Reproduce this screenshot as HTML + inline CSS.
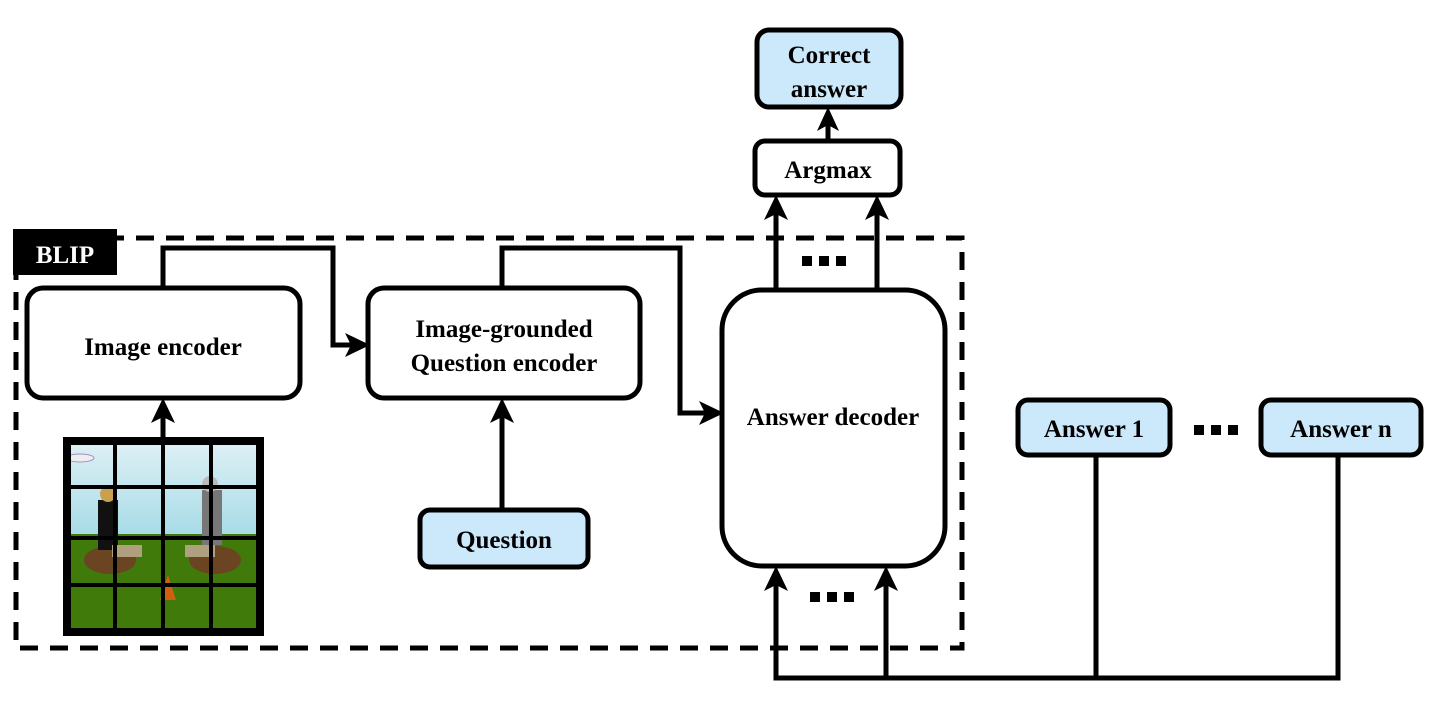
<!DOCTYPE html>
<html><head><meta charset="utf-8"><style>
html,body{margin:0;padding:0;background:#fff;}
svg{display:block;}
text{font-family:"Liberation Serif",serif;font-weight:bold;fill:#000;}
</style></head><body>
<svg width="1442" height="712" viewBox="0 0 1442 712" xmlns="http://www.w3.org/2000/svg">
<defs>
<linearGradient id="sky" x1="0" y1="0" x2="0" y2="1"><stop offset="0" stop-color="#dff0f5"/><stop offset="1" stop-color="#a8dce8"/></linearGradient>
</defs>
<rect x="16" y="238" width="946" height="410" fill="none" stroke="#000" stroke-width="5" stroke-dasharray="18,12"/>
<rect x="13" y="229" width="104" height="46" fill="#000"/>
<text x="65" y="263" font-size="25" text-anchor="middle" style="fill:#fff">BLIP</text>

<g fill="none" stroke="#000" stroke-width="5">
<rect x="27" y="288" width="273" height="110" rx="16"/>
<rect x="368" y="288" width="272" height="110" rx="16"/>
<rect x="722" y="290" width="223" height="276" rx="40"/>
<rect x="755" y="141" width="145" height="54" rx="10"/>
<polyline points="163,288 163,248 333,248 333,345 352,345"/>
<polyline points="502,288 502,248 680,248 680,413 706,413"/>
<line x1="163" y1="437" x2="163" y2="416"/>
<line x1="502" y1="510" x2="502" y2="416"/>
<line x1="776" y1="290" x2="776" y2="213"/>
<line x1="877" y1="290" x2="877" y2="213"/>
<line x1="828" y1="141" x2="828" y2="124"/>
<polyline points="776,584 776,678 1338,678 1338,455"/>
<line x1="886" y1="584" x2="886" y2="678"/>
<line x1="1096" y1="455" x2="1096" y2="678"/>
</g>
<g fill="#000">
<polygon points="370,345 345,333 351,345 345,357"/>
<polygon points="724,413 699,401 705,413 699,425"/>
<polygon points="163,398 151,423 163,417 175,423"/>
<polygon points="502,398 490,423 502,417 514,423"/>
<polygon points="776,195 764,220 776,214 788,220"/>
<polygon points="877,195 865,220 877,214 889,220"/>
<polygon points="828,107 817,131 828,125 839,131"/>
<polygon points="776,566 764,591 776,585 788,591"/>
<polygon points="886,566 874,591 886,585 898,591"/>
<rect x="802" y="256" width="10" height="10"/><rect x="819" y="256" width="10" height="10"/><rect x="836" y="256" width="10" height="10"/>
<rect x="810" y="592" width="10" height="10"/><rect x="827" y="592" width="10" height="10"/><rect x="844" y="592" width="10" height="10"/>
<rect x="1194" y="425" width="10" height="10"/><rect x="1211" y="425" width="10" height="10"/><rect x="1228" y="425" width="10" height="10"/>
</g>
<g fill="#cce8fb" stroke="#000" stroke-width="5">
<rect x="757" y="30" width="144" height="77" rx="12"/>
<rect x="420" y="510" width="168" height="57" rx="10"/>
<rect x="1018" y="400" width="152" height="55" rx="10"/>
<rect x="1261" y="400" width="160" height="55" rx="10"/>
</g>
<rect x="67" y="441" width="193" height="93" fill="url(#sky)"/>
<rect x="67" y="534" width="193" height="98" fill="#3f7a0a"/>
<ellipse cx="80" cy="458" rx="14" ry="4" fill="#eee" stroke="#9a8fc0" stroke-width="1"/>
<ellipse cx="110" cy="560" rx="26" ry="14" fill="#6b4422"/>
<ellipse cx="215" cy="560" rx="26" ry="14" fill="#6b4422"/>
<rect x="98" y="500" width="20" height="50" fill="#111"/>
<circle cx="108" cy="494" r="8" fill="#c8a050"/>
<rect x="202" y="490" width="20" height="55" fill="#777"/>
<circle cx="210" cy="484" r="8" fill="#bbb"/>
<rect x="112" y="545" width="30" height="12" fill="#b0a080"/>
<rect x="185" y="545" width="30" height="12" fill="#b0a080"/>
<path d="M160,600 L168,575 L176,600 Z" fill="#d06010"/>
<g stroke="#000" fill="none">
<rect x="67" y="441" width="193" height="191" stroke-width="8"/>
<line x1="115" y1="441" x2="115" y2="632" stroke-width="4"/>
<line x1="163" y1="441" x2="163" y2="632" stroke-width="4"/>
<line x1="211" y1="441" x2="211" y2="632" stroke-width="4"/>
<line x1="67" y1="487" x2="260" y2="487" stroke-width="4"/>
<line x1="67" y1="538" x2="260" y2="538" stroke-width="4"/>
<line x1="67" y1="585" x2="260" y2="585" stroke-width="4"/>
</g>
<text x="163" y="355" font-size="25" text-anchor="middle">Image encoder</text>
<text x="504" y="337" font-size="25" text-anchor="middle">Image-grounded</text>
<text x="504" y="371" font-size="25" text-anchor="middle">Question encoder</text>
<text x="833" y="425" font-size="25" text-anchor="middle">Answer decoder</text>
<text x="828" y="178" font-size="25" text-anchor="middle">Argmax</text>
<text x="829" y="63" font-size="25" text-anchor="middle">Correct</text>
<text x="829" y="97" font-size="25" text-anchor="middle">answer</text>
<text x="504" y="548" font-size="25" text-anchor="middle">Question</text>
<text x="1094" y="437" font-size="25" text-anchor="middle">Answer 1</text>
<text x="1341" y="437" font-size="25" text-anchor="middle">Answer n</text>
</svg>
</body></html>
